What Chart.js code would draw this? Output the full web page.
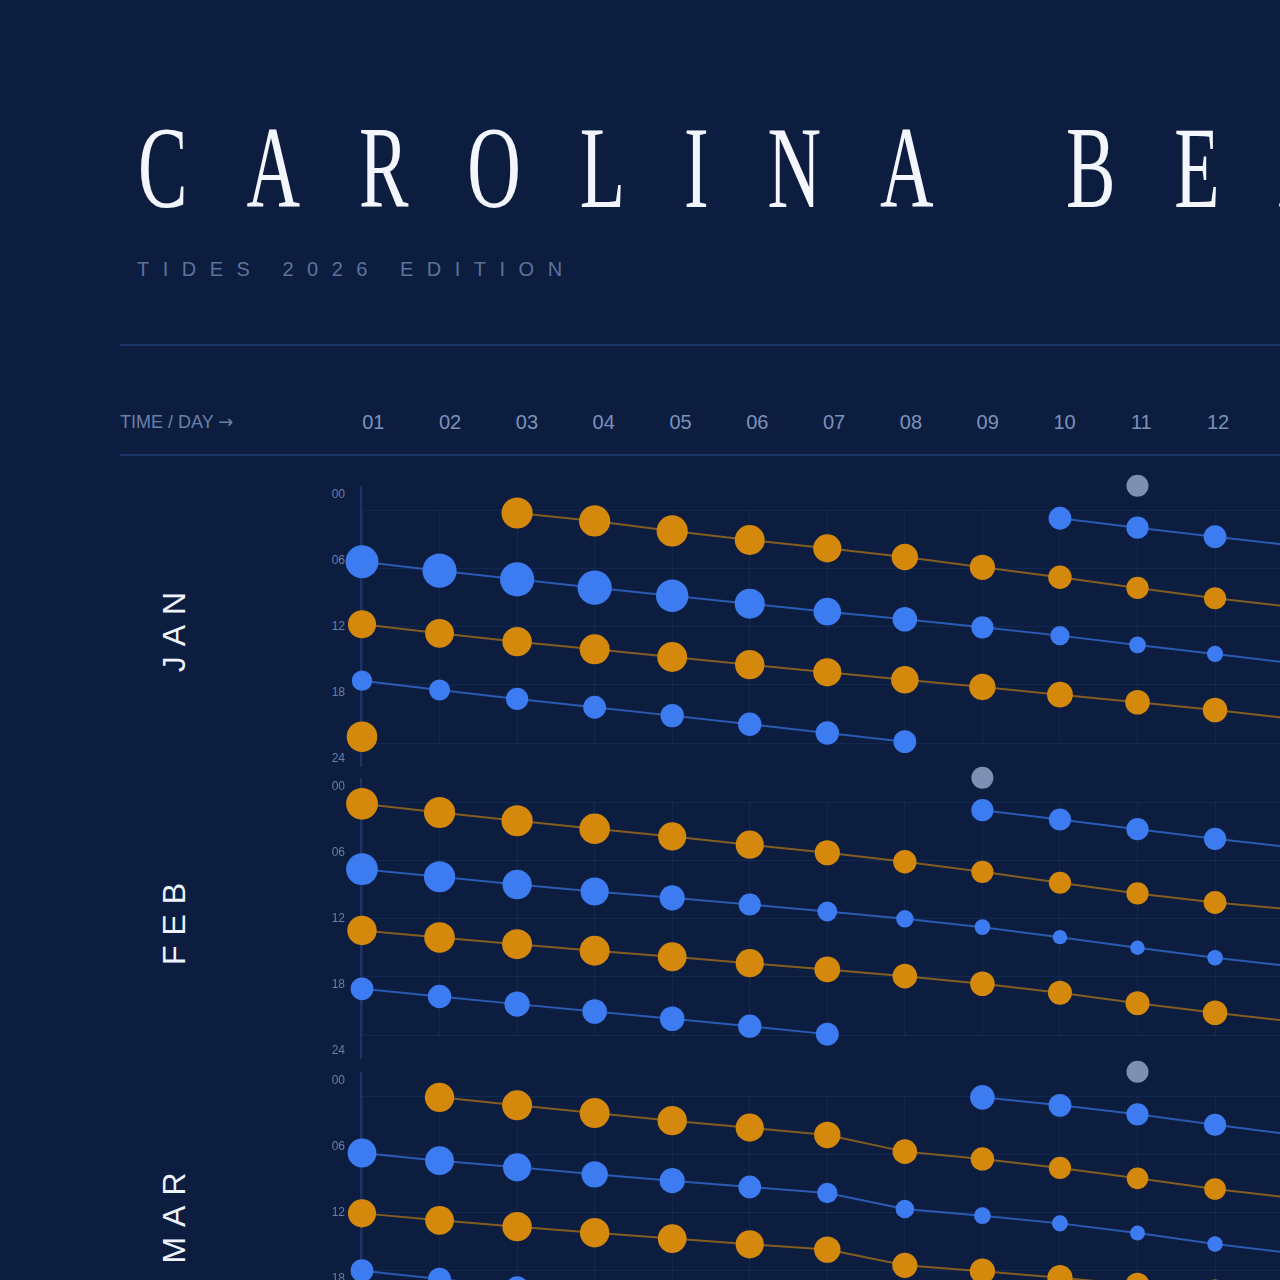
<!DOCTYPE html>
<html>
<head>
<meta charset="utf-8">
<script src="https://cdn.jsdelivr.net/npm/chart.js@4.4.1/dist/chart.umd.min.js"></script>
<style>
  html, body { margin: 0; padding: 0; }
  body {
    width: 1280px; height: 1280px; overflow: hidden; position: relative;
    background: #0c1d40; font-family: "Liberation Sans", Arial, sans-serif;
  }
  .abs { position: absolute; white-space: nowrap; }
  #title {
    left: 138px; top: 110px; font-family: "Liberation Serif", serif;
    font-size: 116px; line-height: 116px; letter-spacing: 92px; color: #f3f6fc;
    transform: scaleX(0.64); transform-origin: 0 0;
  }
  #subtitle { left: 137px; top: 259px; font-size: 20px; line-height: 20px; letter-spacing: 13.5px; color: #5d729e; }
  .rule { position: absolute; left: 120px; width: 1160px; height: 2px; background: #1a3566; }
  #axisHead { left: 120px; top: 413px; font-size: 18px; line-height: 18px; color: #6b80a8; }
  #axisHead span { font-family: "DejaVu Sans", sans-serif; font-size: 18px; }
  .day { position: absolute; top: 412px; width: 40px; margin-left: -20px; text-align: center;
         font-size: 20px; line-height: 20px; color: #7d92b8; }
  .hr { position: absolute; left: 305px; width: 40px; text-align: right;
        font-size: 12px; line-height: 12px; color: #6a7ea6; }
  .month { position: absolute; left: 174px; font-size: 32px; line-height: 32px; letter-spacing: 10px;
           color: #eef2fa; white-space: nowrap; transform: translate(-50%, -50%) rotate(-90deg); }
  .spine { position: absolute; left: 360px; width: 2px; height: 281px; background: #1a3566; }
  canvas { position: absolute; left: 300px; }
</style>
</head>
<body>
<div id="title" class="abs">CAROLINA BEACH</div>
<div id="subtitle" class="abs">TIDES 2026 EDITION</div>
<div class="rule" style="top:344px"></div>
<div id="axisHead" class="abs">TIME / DAY <span>&rarr;</span></div>
<div class="rule" style="top:454px"></div>

<script>
// days shown per month (13th is just past the right edge)
const DAYS = [1, 2, 3, 4, 5, 6, 7, 8, 9, 10, 11, 12, 13];
const DAY_LABELS = ["01", "02", "03", "04", "05", "06", "07", "08", "09", "10", "11", "12", "13"];
const MONTHS = ["JAN", "FEB", "MAR"];
const HOUR_TICKS = ["00", "06", "12", "18", "24"];

// tide times (hours of day) and tide size (ft) per day
const JAN_HIGH_A = [23.35, null, 0.31, 1.13, 2.16, 3.09, 3.95, 4.84, 5.90, 6.93, 8.03, 9.09, 10.0];
const JAN_HIGH_A_FT = [5.1, null, 5.2, 5.2, 5.2, 5.0, 4.7, 4.4, 4.2, 3.9, 3.7, 3.7, 3.7];
const JAN_LOW_A = [5.32, 6.25, 7.14, 8.00, 8.83, 9.65, 10.47, 11.26, 12.08, 12.94, 13.90, 14.83, 15.78];
const JAN_LOW_A_FT = [5.5, 5.7, 5.7, 5.7, 5.4, 5.0, 4.6, 4.1, 3.7, 3.2, 2.8, 2.7, 2.7];
const JAN_HIGH_B = [11.77, 12.70, 13.56, 14.35, 15.14, 15.93, 16.72, 17.48, 18.23, 19.02, 19.81, 20.60, 21.49];
const JAN_HIGH_B_FT = [4.7, 4.8, 4.9, 5.0, 5.0, 4.9, 4.7, 4.6, 4.4, 4.3, 4.1, 4.1, 4.1];
const JAN_LOW_B = [17.58, 18.54, 19.46, 20.32, 21.18, 22.07, 22.97, 23.86, null, 0.85, 1.82, 2.75, 3.66];
const JAN_LOW_B_FT = [3.4, 3.5, 3.7, 3.8, 3.9, 3.9, 3.9, 3.8, null, 3.8, 3.7, 3.8, 3.8];
const JAN_MOON = [11];

const FEB_HIGH_A = [0.19, 1.08, 1.93, 2.76, 3.55, 4.40, 5.23, 6.15, 7.19, 8.32, 9.42, 10.35, 11.07];
const FEB_HIGH_A_FT = [5.3, 5.2, 5.2, 5.1, 4.7, 4.7, 4.2, 3.9, 3.7, 3.7, 3.7, 3.8, 3.8];
const FEB_LOW_A = [6.92, 7.70, 8.50, 9.22, 9.87, 10.56, 11.28, 12.03, 12.89, 13.92, 15.01, 16.04, 16.94];
const FEB_LOW_A_FT = [5.3, 5.2, 4.9, 4.7, 4.2, 3.7, 3.3, 2.9, 2.6, 2.4, 2.4, 2.6, 2.7];
const FEB_HIGH_B = [13.23, 13.95, 14.64, 15.32, 15.94, 16.60, 17.25, 17.94, 18.72, 19.65, 20.72, 21.71, 22.60];
const FEB_HIGH_B_FT = [4.9, 5.1, 5.0, 5.0, 4.8, 4.7, 4.3, 4.1, 4.1, 4.0, 4.0, 4.1, 4.1];
const FEB_LOW_B = [19.24, 20.03, 20.82, 21.58, 22.33, 23.09, 23.91, null, 0.84, 1.80, 2.80, 3.79, 4.69];
const FEB_LOW_B_FT = [3.8, 3.9, 4.2, 4.1, 4.1, 3.9, 3.8, null, 3.7, 3.7, 3.7, 3.7, 3.7];
const FEB_MOON = [9];

const MAR_HIGH_A = [null, 0.14, 0.96, 1.76, 2.54, 3.26, 4.01, 5.73, 6.48, 7.41, 8.48, 9.58, 10.5];
const MAR_HIGH_A_FT = [null, 4.9, 5.0, 5.0, 4.9, 4.7, 4.4, 4.1, 3.9, 3.7, 3.6, 3.6, 3.6];
const MAR_LOW_A = [5.87, 6.66, 7.35, 8.07, 8.72, 9.37, 9.99, 11.64, 12.33, 13.12, 14.11, 15.24, 16.2];
const MAR_LOW_A_FT = [4.8, 4.8, 4.7, 4.4, 4.2, 3.8, 3.4, 3.1, 2.8, 2.7, 2.5, 2.6, 2.7];
const MAR_HIGH_B = [12.09, 12.81, 13.46, 14.08, 14.69, 15.28, 15.82, 17.44, 18.04, 18.71, 19.43, 20.15, 20.88];
const MAR_HIGH_B_FT = [4.7, 4.8, 4.9, 4.9, 4.8, 4.7, 4.4, 4.2, 4.2, 4.2, 4.0, 4.0, 4.0];
const MAR_LOW_B = [17.99, 18.86, 19.74, null, null, null, null, null, 0.14, 0.96, 1.89, 2.96, 3.99];
const MAR_LOW_B_FT = [3.8, 3.8, 3.8, null, null, null, null, null, 4.1, 3.8, 3.7, 3.7, 3.7];
const MAR_MOON = [11];

const HIGH = "#d4880c", HIGH_LINE = "rgba(212,137,12,0.6)";
const LOW = "#3c7bf0", LOW_LINE = "rgba(60,123,240,0.65)";
const MOON = "#7d8fb3";
const MOON_LANE = -2.5;   // moon markers sit above midnight
const GRID = "rgba(34,72,130,0.26)";

const PANEL_TOP = [486, 778, 1072];
const DAY_PX = 77.55;
const CANVAS_W = 1080, CANVAS_H = 313, PAD_L = 62, PAD_V = 40;

const panels = [
  { sets: [[JAN_HIGH_A, JAN_HIGH_A_FT, 1], [JAN_LOW_A, JAN_LOW_A_FT, 0], [JAN_HIGH_B, JAN_HIGH_B_FT, 1], [JAN_LOW_B, JAN_LOW_B_FT, 0]], moon: JAN_MOON },
  { sets: [[FEB_HIGH_A, FEB_HIGH_A_FT, 1], [FEB_LOW_A, FEB_LOW_A_FT, 0], [FEB_HIGH_B, FEB_HIGH_B_FT, 1], [FEB_LOW_B, FEB_LOW_B_FT, 0]], moon: FEB_MOON },
  { sets: [[MAR_HIGH_A, MAR_HIGH_A_FT, 1], [MAR_LOW_A, MAR_LOW_A_FT, 0], [MAR_HIGH_B, MAR_HIGH_B_FT, 1], [MAR_LOW_B, MAR_LOW_B_FT, 0]], moon: MAR_MOON },
];

// header day numbers
DAY_LABELS.forEach((lab, i) => {
  const d = document.createElement("div");
  d.className = "day";
  d.style.left = (373.3 + 76.8 * i) + "px";
  d.textContent = lab;
  document.body.appendChild(d);
});

function tideSet(times, feet, isHigh) {
  return {
    data: DAYS.map((d, i) => ({ x: d, y: times[i] })),
    borderColor: isHigh ? HIGH_LINE : LOW_LINE,
    borderWidth: 2,
    pointBackgroundColor: isHigh ? HIGH : LOW,
    pointBorderWidth: 0,
    pointRadius: feet.map(f => (f == null ? 0 : f * 3)),
    tension: 0,
    clip: false,
  };
}

// moon markers live above the 00 line, outside the chart area,
// so they are drawn here through the chart's own scales
const moonPlugin = {
  id: "moon",
  afterDatasetsDraw(chart, args, opts) {
    const ctx = chart.ctx, xs = chart.scales.x, ys = chart.scales.y;
    ctx.save();
    ctx.fillStyle = MOON;
    opts.days.forEach(d => {
      ctx.beginPath();
      ctx.arc(xs.getPixelForValue(d), ys.getPixelForValue(MOON_LANE), 11, 0, Math.PI * 2);
      ctx.fill();
    });
    ctx.restore();
  },
};

panels.forEach((p, m) => {
  const top = PANEL_TOP[m];

  const spine = document.createElement("div");
  spine.className = "spine";
  spine.style.top = top + "px";
  document.body.appendChild(spine);

  HOUR_TICKS.forEach((t, i) => {
    const h = document.createElement("div");
    h.className = "hr";
    h.style.top = (top + 2 + 66 * i) + "px";
    h.textContent = t;
    document.body.appendChild(h);
  });

  const ml = document.createElement("div");
  ml.className = "month";
  ml.style.top = (top + 140.5) + "px";
  ml.textContent = MONTHS[m];
  document.body.appendChild(ml);

  const cv = document.createElement("canvas");
  cv.width = CANVAS_W; cv.height = CANVAS_H;
  cv.style.top = (top + 24 - PAD_V) + "px";
  document.body.appendChild(cv);

  const chart = new Chart(cv.getContext("2d"), {
    type: "line",
    data: { datasets: p.sets.map(s => tideSet(s[0], s[1], s[2] === 1)) },
    plugins: [moonPlugin],
    options: {
      responsive: false,
      animation: false,
      events: [],
      layout: { padding: { left: PAD_L, right: 0, top: PAD_V, bottom: PAD_V } },
      plugins: { legend: { display: false }, tooltip: { enabled: false }, moon: { days: p.moon } },
      scales: {
        x: {
          type: "linear", min: 1, max: 14,
          grid: { color: GRID, drawTicks: false, lineWidth: 1 },
          border: { display: false },
          ticks: { display: false, stepSize: 1 },
        },
        y: {
          type: "linear", min: 0, max: 24, reverse: true,
          grid: { color: GRID, drawTicks: false, lineWidth: 1 },
          border: { display: false },
          ticks: { display: false, stepSize: 6 },
        },
      },
    },
  });
  // keep a fixed day pitch whatever width the chart area ends up with
  chart.options.scales.x.max = 1 + chart.chartArea.width / DAY_PX;
  chart.update();
});
</script>
</body>
</html>
